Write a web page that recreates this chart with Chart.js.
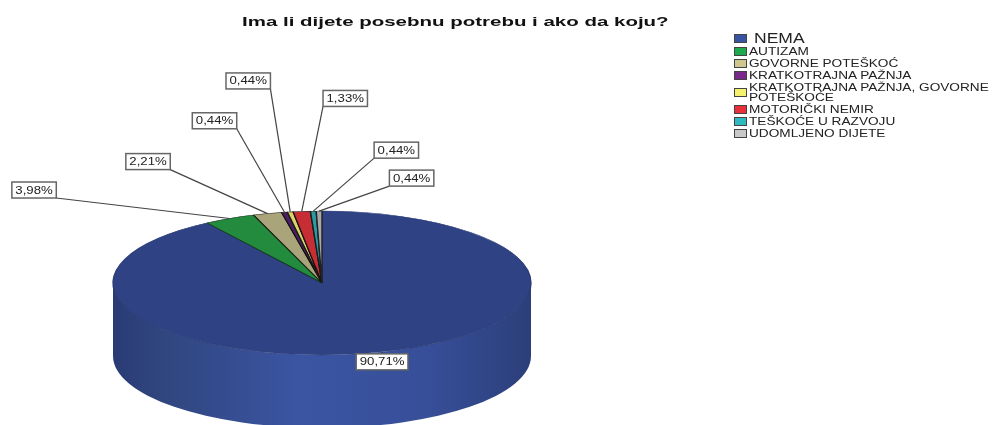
<!DOCTYPE html>
<html lang="hr">
<head>
    <meta charset="UTF-8">
    <title>Ima li dijete posebnu potrebu</title>
    <style>
        html, body { margin: 0; background: white; overflow: hidden; }
        #wrap { position: relative; width: 992px; height: 425px; font-family: "Liberation Sans", Arial, sans-serif; color: #222; }
        #title { position: absolute; left: 242px; top: 14px; font-size: 13px; font-weight: bold; color: #111; white-space: nowrap; transform-origin: left top; transform: scaleX(1.575); }
        #legend { position: absolute; left: 734px; top: 31px; width: 258px; }
        .row { display: flex; align-items: center; margin-bottom: 2px; }
        .row:first-child { margin-bottom: 1px; }
        .swatch { width: 11px; height: 7px; border: 1.5px solid #444; flex: none; margin-right: 2px; }
        .name { font-size: 11px; line-height: 10px; width: 208px; transform-origin: left center; transform: scaleX(1.24); }
        .row:first-child .name { font-size: 14px; line-height: 14px; margin-left: 5px; transform: scaleX(1.25); }
        canvas { position: absolute; left: 0; top: 0; }
    </style>
</head>
<body>
    <div id="wrap">
        <canvas id="pie" width="992" height="425"></canvas>
        <div id="title">Ima li dijete posebnu potrebu i ako da koju?</div>
        <div id="legend"></div>
    </div>

    <script src="https://cdn.jsdelivr.net/npm/chart.js"></script>
    <script>
        // Data
        const categories = ['NEMA', 'AUTIZAM', 'GOVORNE POTEŠKOĆ', 'KRATKOTRAJNA PAŽNJA', 'KRATKOTRAJNA PAŽNJA, GOVORNE POTEŠKOĆE', 'MOTORIČKI NEMIR', 'TEŠKOĆE U RAZVOJU', 'UDOMLJENO DIJETE'];
        const percents = [90.71, 3.98, 2.21, 0.44, 0.44, 1.33, 0.44, 0.44];

        // Colours
        const faceColors = ['#2f4283', '#228b3e', '#a9a47a', '#4d1f66', '#d9d36a', '#c62d35', '#2a9aa5', '#a8a8a8'];
        const edgeColors = ['#2a3b75', '#14301c', '#1c1c14', '#111111', '#1c1c14', '#1c1010', '#102022', '#222222'];
        const legendColors = ['#3953a4', '#1fa94f', '#cfc78e', '#7a2a8a', '#f5f06e', '#e8303a', '#2fb8c0', '#c8c8c8'];

        // Pie geometry on the page
        const pieCenterY = 283;
        const tilt = 0.344;
        const depth = 73;
        // label box centre, relative to the point on the rim
        const labelOffsets = [[0, 10], [-195.5, -28.5], [-119.5, -52], [-70, -91.5], [-42, -131], [43.5, -113], [83, -61], [92.5, -33]];

        const pie3d = {
            id: 'pie3d',
            beforeDatasetDraw(chart) {
                const ctx = chart.ctx;
                const arcs = chart.getDatasetMeta(0).data;
                const { x, outerRadius: r } = arcs[0];
                const ry = r * tilt;

                // front wall, only the part of each slice between 3 and 9 o'clock shows
                const wall = ctx.createLinearGradient(x - r, 0, x + r, 0);
                wall.addColorStop(0, '#2a3b74');
                wall.addColorStop(0.12, '#30467f');
                wall.addColorStop(0.45, '#3b55a3');
                wall.addColorStop(0.75, '#374f99');
                wall.addColorStop(1, '#2c3f7a');
                arcs.forEach(arc => {
                    const a0 = Math.max(arc.startAngle, 0);
                    const a1 = Math.min(arc.endAngle, Math.PI);
                    if (a1 <= a0) return;
                    ctx.beginPath();
                    ctx.ellipse(x, pieCenterY, r, ry, 0, a0, a1);
                    ctx.ellipse(x, pieCenterY + depth, r, ry, 0, a1, a0, true);
                    ctx.closePath();
                    ctx.fillStyle = wall;
                    ctx.fill();
                });

                // squash the slices into the tilted top face
                ctx.save();
                ctx.translate(0, pieCenterY);
                ctx.scale(1, tilt);
                ctx.translate(0, -arcs[0].y);
            },
            afterDatasetDraw(chart) {
                const ctx = chart.ctx;
                ctx.restore();

                chart.getDatasetMeta(0).data.forEach((arc, i) => {
                    const mid = (arc.startAngle + arc.endAngle) / 2;
                    const ax = arc.x + arc.outerRadius * Math.cos(mid);
                    const ay = pieCenterY + arc.outerRadius * tilt * Math.sin(mid);
                    const [dx, dy] = labelOffsets[i];
                    const bx = ax + dx;
                    const by = ay + dy;
                    const text = percents[i].toFixed(2).replace('.', ',') + '%';

                    ctx.save();
                    ctx.font = '11px "Liberation Sans", Arial, sans-serif';
                    const stretch = 1.2;
                    const w = ctx.measureText(text).width * stretch + 7;
                    const h = 16;

                    // leader line to the nearest corner of the box
                    let ex = bx;
                    let ey = by - h / 2;
                    if (dy < 0) {
                        ex = dx < 0 ? bx + w / 2 : bx - w / 2;
                        ey = by + h / 2;
                    }
                    ctx.strokeStyle = '#444';
                    ctx.lineWidth = 1.2;
                    ctx.beginPath();
                    ctx.moveTo(ax, ay);
                    ctx.lineTo(ex, ey);
                    ctx.stroke();

                    ctx.fillStyle = 'white';
                    ctx.strokeStyle = '#666';
                    ctx.lineWidth = 1.5;
                    ctx.fillRect(bx - w / 2, by - h / 2, w, h);
                    ctx.strokeRect(bx - w / 2, by - h / 2, w, h);

                    ctx.translate(bx, by);
                    ctx.scale(stretch, 1);
                    ctx.fillStyle = '#222';
                    ctx.textAlign = 'center';
                    ctx.textBaseline = 'middle';
                    ctx.fillText(text, 0, 0.5);
                    ctx.restore();
                });
            }
        };

        new Chart(document.getElementById('pie'), {
            type: 'pie',
            data: {
                labels: categories,
                datasets: [{
                    data: percents,
                    backgroundColor: faceColors,
                    borderColor: edgeColors,
                    borderWidth: 1.4,
                    clip: false
                }]
            },
            options: {
                responsive: false,
                animation: false,
                events: [],
                radius: 209,
                layout: { padding: { right: 348 } },
                plugins: { legend: { display: false }, tooltip: { enabled: false } }
            },
            plugins: [pie3d]
        });

        // Legend
        const legend = document.getElementById('legend');
        categories.forEach((name, i) => {
            const row = document.createElement('div');
            row.className = 'row';
            const swatch = document.createElement('div');
            swatch.className = 'swatch';
            swatch.style.background = legendColors[i];
            const label = document.createElement('div');
            label.className = 'name';
            label.textContent = name;
            row.append(swatch, label);
            legend.append(row);
        });
    </script>
</body>
</html>
